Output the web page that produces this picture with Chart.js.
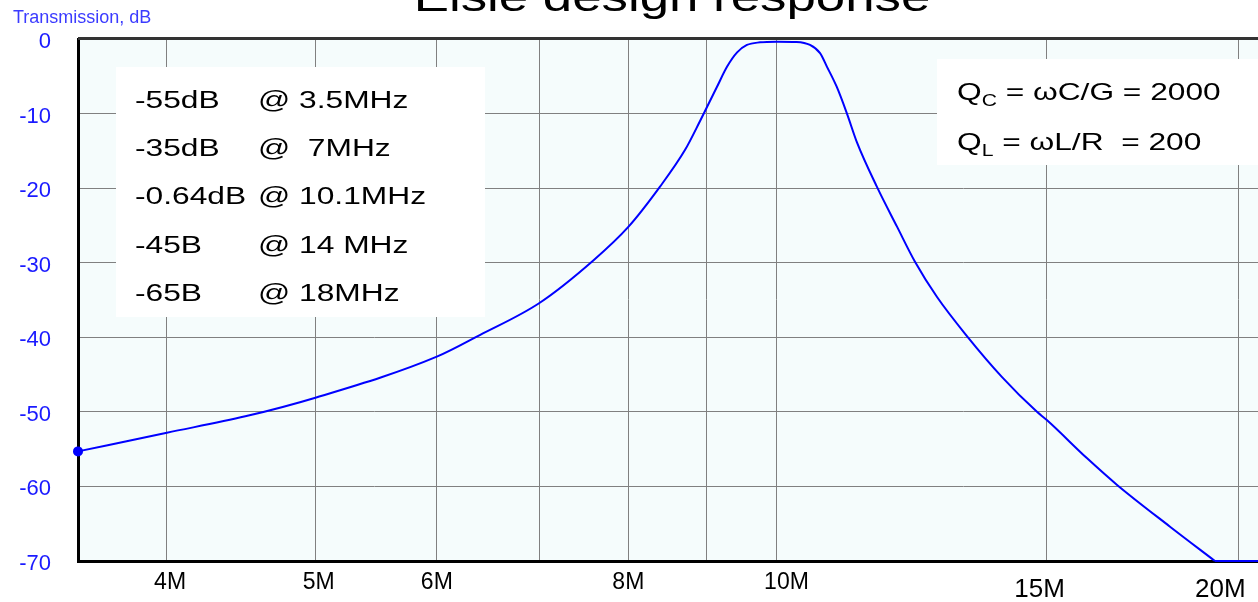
<!DOCTYPE html>
<html lang="en">
<head>
<meta charset="UTF-8">
<title>Elsie design response</title>
<script src="https://cdn.jsdelivr.net/npm/chart.js"></script>
<style>
  html, body { margin: 0; padding: 0; background: #fff; }
  #wrap { width: 1258px; height: 602px; }
</style>
</head>
<body>
<div id="wrap"><canvas id="resp" width="1258" height="602"></canvas></div>
<script>
// filter response (frequency in MHz, transmission in dB)
const freqMHz = [3.5, 4.0, 4.5, 5.0, 6.0, 6.4, 7.0, 7.59, 8.0, 8.39, 8.71, 8.91,
  9.14, 9.28, 9.42, 9.56, 9.75, 10.0, 10.3, 10.51, 10.67, 10.78, 10.94, 11.11, 11.28,
  11.62, 11.98, 12.3, 12.72, 13.3, 14.02, 14.78, 15.0, 15.93, 16.67, 18.05, 19.31];
const transmissionDb = [-55.3, -52.8, -50.6, -48.1, -42.6, -39.7, -35.4, -29.7, -25.2, -19.8, -14.9, -11.0,
  -6.4, -3.7, -1.8, -0.8, -0.45, -0.36, -0.4, -0.8, -1.9, -3.7, -6.4, -10.0, -13.9,
  -19.8, -25.2, -29.8, -34.6, -39.8, -45.3, -50.0, -51.1, -56.2, -59.8, -65.4, -70];
// part of the trace that sits on the -70 dB floor
const floorFreqMHz = [19.31, 20.6];
const floorDb = [-70, -70];

// gridlines sit on every value; labels are not quite centred on them in the original
const xTickValues = [4, 5, 6, 7, 8, 9, 10, 15, 20];
const xTickLabels = [' 4M', ' 5M', '6M', '', '8M', '', '   10M', '15M  ', '20M     '];

const bandNotes = [
  ['-55dB', '@ 3.5MHz'],
  ['-35dB', '@  7MHz'],
  ['-0.64dB', '@ 10.1MHz'],
  ['-45B', '@ 14 MHz'],
  ['-65B', '@ 18MHz']
];
const qNotes = [
  ['Q', 'C', ' = \u03C9C/G = 2000'],
  ['Q', 'L', ' = \u03C9L/R  = 200']
];

const FONT = "'Liberation Sans', Arial, sans-serif";

function stretchText(ctx, txt, x, y, sx) {
  ctx.save();
  ctx.translate(x, y);
  ctx.scale(sx, 1);
  ctx.fillText(txt, 0, 0);
  ctx.restore();
  return ctx.measureText(txt).width * sx;
}

const decor = {
  id: 'decor',
  beforeDraw(chart) {
    const { ctx, chartArea: a } = chart;
    ctx.save();
    ctx.fillStyle = '#f5fcfc';
    ctx.fillRect(a.left, a.top, a.right - a.left, a.bottom - a.top);
    ctx.restore();
  },
  beforeDatasetsDraw(chart) {
    const { ctx, chartArea: a } = chart;
    ctx.save();
    // top frame line
    ctx.strokeStyle = '#333';
    ctx.lineWidth = 3;
    ctx.beginPath();
    ctx.moveTo(a.left, a.top - 0.5);
    ctx.lineTo(a.right, a.top - 0.5);
    ctx.stroke();

    // band notes box
    ctx.fillStyle = '#fff';
    ctx.fillRect(116, 67, 369, 250);
    ctx.fillStyle = '#000';
    ctx.font = '23px ' + FONT;
    ctx.textBaseline = 'alphabetic';
    bandNotes.forEach((row, i) => {
      const y = 108 + i * 48.2;
      stretchText(ctx, row[0], 135, y, 1.38);
      stretchText(ctx, row[1], 258, y, 1.38);
    });

    // Q box
    ctx.fillStyle = '#fff';
    ctx.fillRect(937, 59, 330, 106);
    ctx.fillStyle = '#000';
    qNotes.forEach((row, i) => {
      const y = 100 + i * 50;
      let x = 957;
      ctx.font = '24px ' + FONT;
      x += stretchText(ctx, row[0], x, y, 1.32);
      ctx.font = '16px ' + FONT;
      x += stretchText(ctx, row[1], x, y + 6, 1.32);
      ctx.font = '24px ' + FONT;
      stretchText(ctx, row[2], x, y, 1.32);
    });
    ctx.restore();
  },
  afterDraw(chart) {
    const { ctx } = chart;
    ctx.save();
    ctx.fillStyle = '#000';
    ctx.font = '40px ' + FONT;
    ctx.textBaseline = 'alphabetic';
    const t = 'Elsie design response';
    const w = ctx.measureText(t).width * 1.32;
    stretchText(ctx, t, 672 - w / 2, 11, 1.32);

    ctx.fillStyle = '#3b3bff';
    ctx.font = '18px ' + FONT;
    ctx.fillText('Transmission, dB', 13, 23);
    ctx.restore();
  }
};

const traceStyle = {
  borderColor: '#0000ff',
  backgroundColor: '#0000ff',
  borderWidth: 2,
  fill: false,
  clip: false
};

new Chart(document.getElementById('resp'), {
  type: 'line',
  data: {
    datasets: [{
      ...traceStyle,
      data: freqMHz.map((f, i) => ({ x: f, y: transmissionDb[i] })),
      cubicInterpolationMode: 'monotone',
      pointRadius: c => c.dataIndex === 0 ? 5 : 0,
      pointBorderWidth: 0
    }, {
      ...traceStyle,
      data: floorFreqMHz.map((f, i) => ({ x: f, y: floorDb[i] })),
      pointRadius: 0
    }]
  },
  options: {
    responsive: false,
    animation: false,
    layout: { autoPadding: false, padding: { top: 39, right: 0, left: 0, bottom: 0 } },
    plugins: {
      legend: { display: false },
      tooltip: { enabled: false }
    },
    scales: {
      x: {
        type: 'logarithmic',
        min: 3.5,
        max: 20.6,
        afterBuildTicks: s => { s.ticks = xTickValues.map(v => ({ value: v })); },
        afterFit: s => { s.height = 41; s.paddingLeft = 0; s.paddingRight = 0; },
        ticks: {
          autoSkip: false,
          maxRotation: 0,
          padding: 8,
          color: '#000',
          font: c => {
            const big = c.tick && c.tick.value >= 15;
            return { family: FONT, size: big ? 26 : 23, lineHeight: big ? 1.6 : 1.2 };
          },
          callback: (v, i) => xTickLabels[i]
        },
        grid: { color: '#808080', lineWidth: 1, drawTicks: false },
        border: { color: '#000', width: 3 }
      },
      y: {
        min: -70,
        max: 0,
        afterFit: s => { s.width = 78; s.paddingTop = 0; s.paddingBottom = 0; },
        ticks: {
          stepSize: 10,
          padding: 27,
          labelOffset: 3,
          color: '#1a1aff',
          font: { family: FONT, size: 22 }
        },
        grid: { color: '#808080', lineWidth: 1, drawTicks: false },
        border: { color: '#000', width: 3 }
      }
    }
  },
  plugins: [decor]
});
</script>
</body>
</html>
